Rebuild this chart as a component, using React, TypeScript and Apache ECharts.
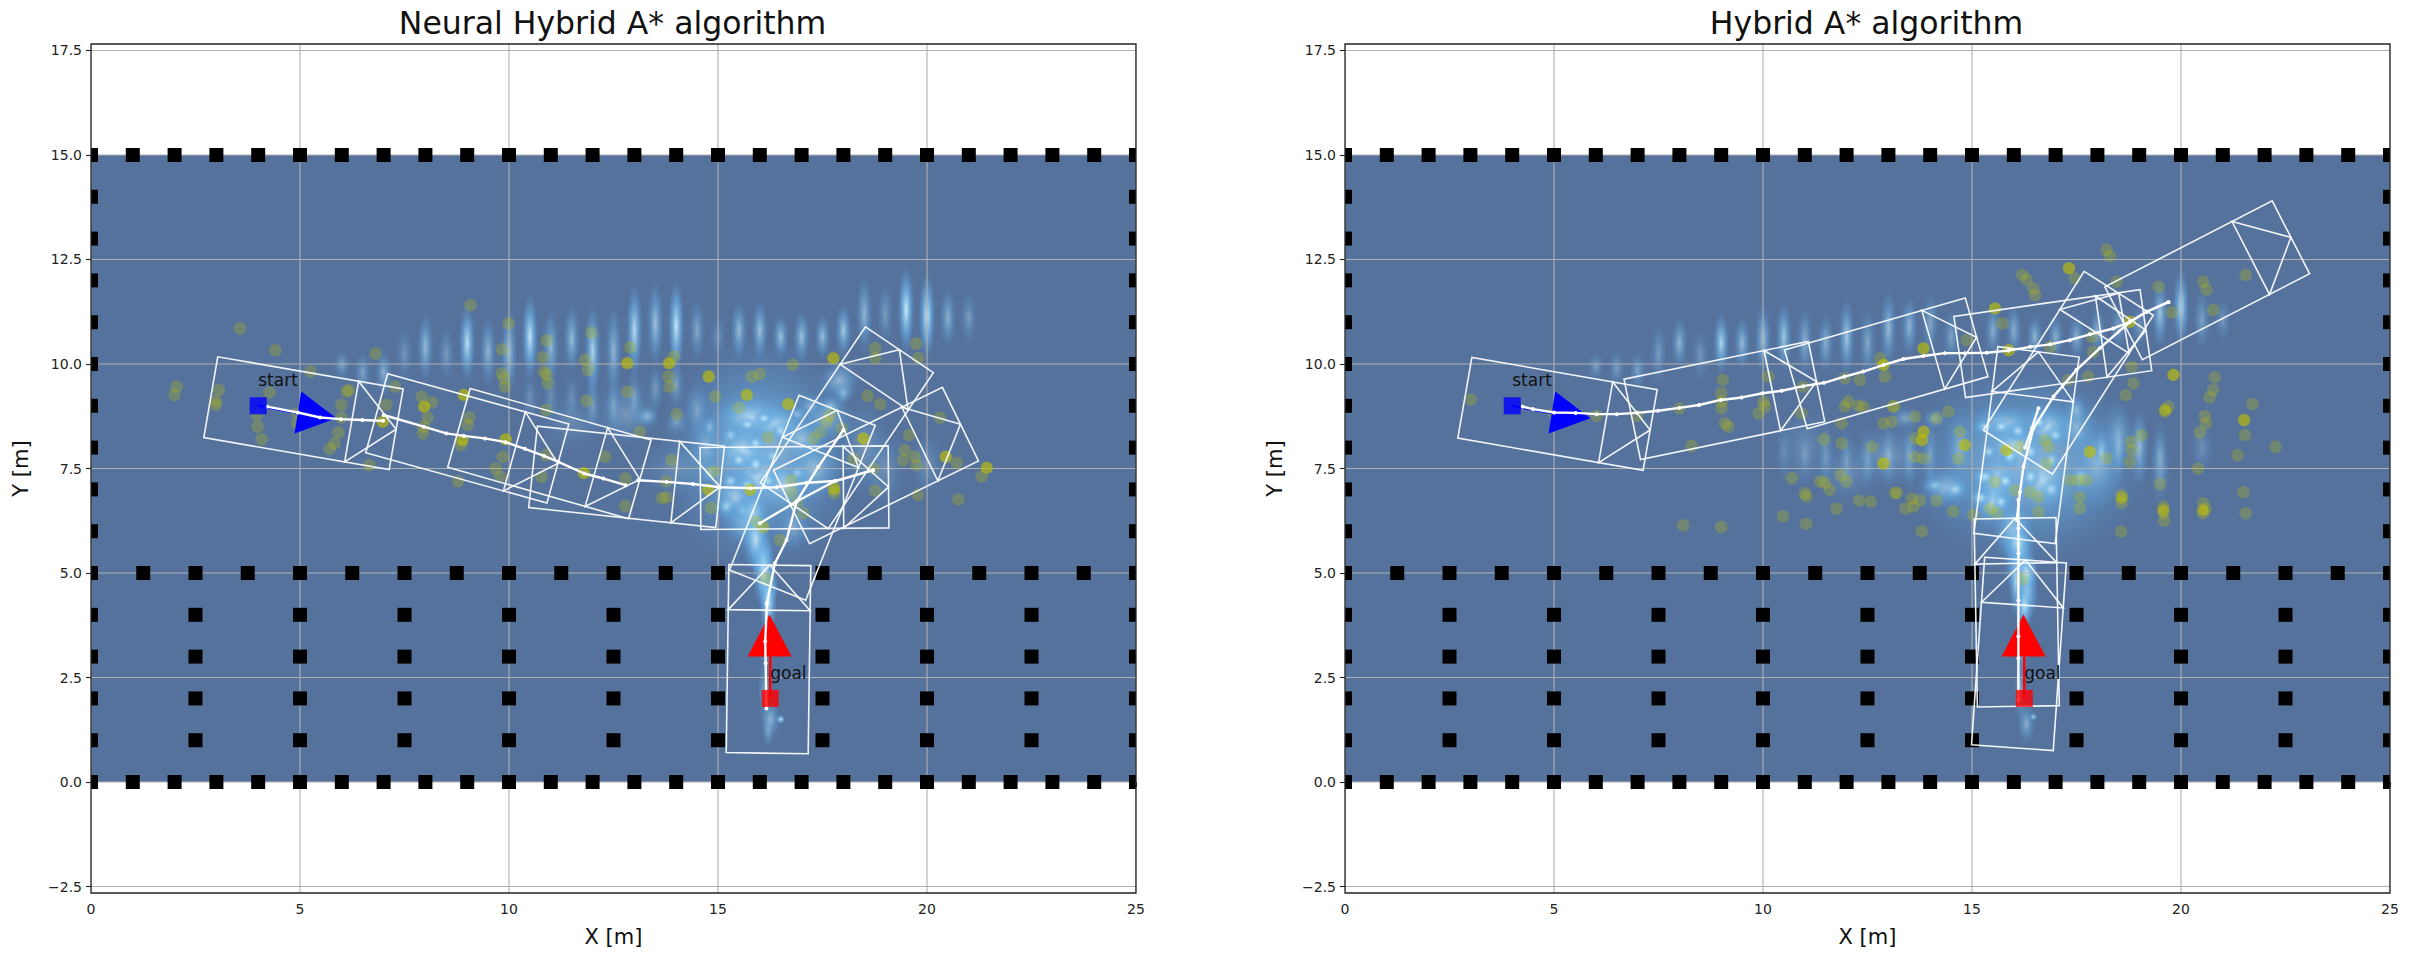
import React, { useEffect, useRef } from "react";
import * as echarts from "echarts";

const titles = ["Neural Hybrid A* algorithm", "Hybrid A* algorithm"];
const xTicks = [0, 5, 10, 15, 20, 25];
const yTicks = [-2.5, 0, 2.5, 5, 7.5, 10, 12.5, 15, 17.5];
const xRange = [0, 25];
const yRange = [-2.655, 17.655];
const field = [[0, 0, 25, 15]];

const wallXs = [0, 1, 2, 3, 4, 5, 6, 7, 8, 9, 10, 11, 12, 13, 14, 15, 16, 17, 18, 19, 20, 21, 22, 23, 24, 25];
const wallYs = [0, 1, 2, 3, 4, 5, 6, 7, 8, 9, 10, 11, 12, 13, 14, 15];
const laneXs = [1.25, 2.5, 3.75, 5, 6.25, 7.5, 8.75, 10, 11.25, 12.5, 13.75, 15, 17.5, 18.75, 20, 21.25, 22.5, 23.75];
const slotXs = [2.5, 5, 7.5, 10, 12.5, 15, 17.5, 20, 22.5];
const slotYs = [1, 2, 3, 4];

const startPoint = [[4, 9]];
const goalPoint = [[16.25, 2]];
const startStem = [[4, 9], [5.5, 8.73]];
const goalStem = [[16.25, 2], [16.25, 3]];
const startHead = [[5.03, 9.34, 4.87, 8.34, 5.87, 8.7]];
const goalHead = [[16.23, 4.01, 15.71, 3.0, 16.76, 3.0]];
const startLabel = [[4.0, 9.5, "start"]];
const goalLabel = [[16.25, 2.5, "goal"]];

// vehicle poses: front-centre x, front-centre y, heading in degrees
const leftVehicles = [
  [7.3, 8.44, -9.8], [11.17, 7.62, -15.5], [13.13, 7.24, -15.9], [15.05, 7.06, -6.1], [19.08, 7.06, 0.5],
  [20.8, 8.56, 26.1], [19.34, 10.34, 56], [17.85, 8.89, 68.3], [16.24, 5.19, 89.2],
];
const rightVehicles = [
  [7.3, 8.42, -9.9], [11.28, 9.58, 11.6], [15.11, 10.64, 16.1], [19.16, 10.81, 8.2], [22.63, 13.03, 27.2],
  [18.51, 11.69, 57.6], [16.59, 10.29, 82.7], [16.03, 6.31, 91], [16.28, 5.31, 86],
];

const leftPaths = [
  [[4.21, 8.98], [4.95, 8.84], [5.48, 8.72], [5.98, 8.68], [6.49, 8.66], [6.99, 8.64]],
  [[7.0, 8.78], [7.96, 8.5], [8.5, 8.34], [8.92, 8.28], [9.42, 8.22], [9.92, 8.13], [10.38, 7.97], [10.84, 7.8], [11.18, 7.66], [11.8, 7.38], [12.26, 7.26], [12.79, 7.1]],
  [[13.09, 7.22], [13.77, 7.18], [14.4, 7.13], [15.05, 7.05], [15.77, 7.03], [16.4, 7.05], [17.12, 7.16], [17.8, 7.2], [18.71, 7.46]],
  [[16.0, 6.19], [16.88, 6.71], [17.8, 7.2], [18.71, 7.46]],
  [[18.0, 8.42], [17.4, 7.54], [16.88, 6.71], [16.64, 5.79], [16.36, 5.23], [16.17, 4.27], [16.13, 3.36], [16.14, 2.84], [16.16, 1.76]],
];
const rightPaths = [
  [[4.25, 8.98], [4.5, 8.92], [5.0, 8.84], [5.52, 8.83], [6.02, 8.8], [6.5, 8.8], [6.99, 8.83], [7.49, 8.88], [8.0, 8.95], [8.47, 9.02], [8.99, 9.14], [9.49, 9.2], [9.99, 9.3], [10.45, 9.36], [10.96, 9.47], [11.46, 9.55], [11.95, 9.7], [12.4, 9.82], [12.89, 9.98], [13.36, 10.12], [13.84, 10.19], [14.35, 10.26], [14.83, 10.26], [15.35, 10.27], [15.87, 10.32], [16.39, 10.41], [16.87, 10.47], [17.34, 10.57], [17.82, 10.71], [18.38, 10.85], [18.78, 11.01], [19.18, 11.25], [19.7, 11.48]],
  [[19.7, 11.48], [19.18, 11.25], [18.78, 11.01], [18.06, 10.38], [17.5, 9.86], [16.95, 9.22], [16.47, 8.46], [16.23, 7.54], [16.15, 6.94], [16.07, 6.27]],
  [[16.59, 8.94], [16.43, 8.46], [16.27, 8.0]],
  [[16.11, 6.75], [16.11, 6.07], [16.11, 5.47], [16.11, 4.35], [16.11, 3.48], [16.11, 2.96], [16.11, 1.96]],
];

const leftDots = [
  [2.05, 9.46], [2.0, 9.26], [3.56, 10.85], [4.41, 10.33], [3.06, 9.38], [2.99, 9.12], [2.99, 9.02], [3.97, 8.78], [3.99, 8.5], [4.08, 8.2], [4.27, 9.32], [5.25, 9.82], [4.93, 8.82], [4.93, 8.58], [5.92, 8.36], [5.83, 8.1], [5.71, 7.97], [5.99, 9.02], [6.12, 9.34], [6.17, 9.38], [5.99, 8.72], [6.81, 10.25], [7.06, 9.02], [6.98, 8.62], [7.27, 9.46], [7.91, 9.22], [7.97, 8.98], [8.16, 9.08], [8.05, 8.72], [7.96, 8.5], [7.94, 8.34], [8.92, 9.26], [9.05, 8.72], [9.01, 8.54], [8.89, 8.18], [8.85, 8.06], [6.66, 7.58], [8.78, 7.19], [9.08, 11.41], [9.99, 10.97], [9.83, 10.35], [9.83, 9.78], [9.88, 9.66], [9.9, 9.46], [9.92, 8.2], [9.85, 7.78], [9.68, 7.5], [9.79, 7.3], [10.78, 7.3], [10.81, 10.16], [10.84, 9.82], [10.9, 9.74], [10.93, 9.54], [10.89, 8.9], [10.89, 7.82], [10.9, 10.56], [11.97, 10.75], [11.82, 10.1], [11.89, 9.86], [11.85, 9.12], [11.78, 7.39], [12.3, 7.78], [12.79, 7.26], [12.79, 6.6], [12.9, 10.4], [12.83, 10.02], [12.83, 9.34], [13.13, 8.38],
  [13.83, 10.02], [13.81, 9.7], [13.84, 9.46], [13.95, 10.18], [14.78, 9.7], [14.93, 9.22], [15.81, 9.7], [16.0, 9.76], [15.69, 9.26], [15.5, 8.96], [16.79, 9.98], [16.68, 9.04], [17.76, 10.14], [18.76, 10.38], [18.76, 10.14], [19.74, 10.49], [19.79, 10.14], [18.58, 9.24], [18.88, 9.04], [17.68, 8.78], [17.6, 8.62], [14.01, 8.8], [16.2, 8.25], [17.44, 8.37], [17.28, 8.22], [18.48, 8.22], [17.96, 8.46], [19.57, 8.3], [19.47, 7.94], [19.43, 7.7], [19.71, 7.78], [19.75, 7.58], [20.45, 7.78], [20.71, 7.64], [20.31, 8.72], [21.43, 7.52], [21.31, 7.31], [20.75, 6.76], [19.78, 6.87], [18.76, 6.97], [18.72, 7.5], [18.24, 7.74], [17.78, 7.07], [17.78, 6.91], [15.77, 6.99], [15.92, 6.23], [16.08, 6.09], [16.48, 5.79], [16.76, 7.22], [16.76, 6.95], [16.88, 6.67], [17.04, 6.43], [14.77, 6.99], [14.83, 6.56], [14.89, 7.43], [13.89, 7.7], [13.76, 7.19], [13.77, 6.81], [13.65, 6.79], [16.16, 4.85], [16.08, 6.11],
];
const leftStrongDots = [
  [16.68, 9.04], [14.78, 9.7], [15.69, 9.26], [13.83, 10.02], [15.77, 6.99], [14.77, 6.99], [21.43, 7.52], [20.45, 7.78], [17.78, 7.0], [11.8, 7.39], [8.89, 8.18], [6.98, 8.62], [9.92, 8.2], [7.97, 8.98], [8.92, 9.26], [12.83, 10.02], [17.76, 10.14], [18.48, 8.22],
];
const rightDots = [
  [3.01, 9.15], [5.0, 8.82], [6.02, 8.76], [6.99, 8.76], [8.0, 8.94], [8.29, 8.04], [9.04, 9.62], [9.0, 9.3], [9.01, 9.1], [9.01, 8.94], [9.09, 8.58], [9.17, 8.5], [10.01, 9.1], [10.05, 8.98], [9.89, 8.82], [10.13, 9.7], [10.96, 9.46], [10.92, 8.82], [11.96, 9.66], [11.88, 8.58], [12.04, 9.1], [11.96, 8.98], [12.28, 9.0], [12.4, 8.98], [12.32, 9.62], [12.88, 8.58], [12.8, 10.14], [12.92, 9.7], [12.88, 9.98], [11.46, 8.2], [11.88, 8.1], [12.6, 8.02], [12.88, 7.62], [10.69, 7.27], [11.36, 7.19], [11.48, 7.16], [11.6, 6.99], [11.86, 7.34], [12.0, 7.19], [11.0, 6.91], [11.04, 6.83], [13.12, 9.0], [13.16, 6.91],
  [18.22, 12.73], [18.3, 12.58], [17.32, 12.29], [17.46, 12.05], [18.46, 11.97], [16.2, 12.13], [16.31, 12.02], [16.47, 11.81], [16.51, 11.65], [15.55, 11.33], [15.73, 10.97], [15.88, 10.33], [16.87, 10.41], [13.84, 10.37], [14.87, 10.57], [17.86, 10.65], [17.9, 10.29], [18.78, 11.01], [19.46, 11.85], [19.78, 11.23], [20.53, 11.97], [20.61, 11.78], [20.77, 11.29], [21.55, 12.13], [18.82, 9.93], [18.86, 9.54], [17.78, 9.7], [17.3, 9.62], [19.82, 9.74], [20.81, 9.68], [20.77, 9.38], [20.69, 9.2], [21.71, 9.04], [18.68, 9.26], [19.62, 8.86], [19.7, 8.98], [20.57, 8.75], [20.6, 8.58], [20.45, 8.36], [21.51, 8.66], [21.53, 8.3], [19.06, 8.3], [22.26, 8.02], [21.35, 7.82], [20.41, 7.5], [18.78, 7.66], [18.82, 7.94], [18.8, 8.14], [18.22, 7.74], [17.82, 7.9], [16.79, 7.62], [16.83, 8.02], [16.75, 8.18], [15.83, 7.94], [16.15, 8.02], [14.83, 8.06], [14.67, 7.74], [14.71, 8.38], [14.43, 8.86], [14.15, 8.7], [13.64, 8.74], [13.08, 8.62], [13.12, 8.98], [13.84, 8.38], [13.8, 8.18], [13.64, 7.78], [13.84, 7.74], [13.64, 8.22], [19.5, 7.13], [18.58, 6.86], [18.58, 6.67], [19.58, 6.59], [19.58, 6.43], [20.53, 6.67], [20.53, 6.43], [21.49, 6.93], [21.55, 6.43], [17.58, 6.82], [17.34, 7.22], [17.54, 7.22], [17.74, 7.22], [17.58, 6.55], [16.59, 6.82], [16.59, 6.47], [16.39, 6.94], [16.03, 6.98], [15.55, 7.18], [15.59, 6.43], [14.55, 6.47], [15.03, 6.39], [13.2, 6.92], [13.56, 6.78], [13.76, 6.74], [13.6, 6.59], [12.58, 6.71],
  [8.09, 6.14], [9.0, 6.1], [10.48, 6.36], [11.03, 6.18], [11.76, 6.54], [12.3, 6.73], [18.57, 5.99], [19.6, 6.25], [20.59, 6.54], [15.44, 6.54], [13.4, 6.54], [13.8, 6.0], [14.15, 6.73], [16.2, 4.85],
];
const rightStrongDots = [
  [15.55, 11.33], [19.82, 9.74], [17.32, 12.29], [15.83, 7.94], [17.82, 7.9], [14.83, 8.06], [18.58, 6.8], [19.62, 8.9], [15.88, 10.33], [13.84, 10.37], [18.78, 11.01], [13.84, 8.38], [13.8, 8.18], [12.88, 9.98], [12.88, 7.62], [21.51, 8.66], [20.53, 6.5], [19.58, 6.5],
];

// stripe columns of the heat map: x, y centre, half height, brightness
const leftStripes = [
  [6, 9.98, 0.35, 0.4], [6.5, 9.8, 0.5, 0.4], [7, 9.8, 0.55, 0.5], [7.5, 10.25, 0.65, 0.3], [8, 10.4, 0.85, 0.6], [8.5, 10.25, 0.65, 0.35], [9, 10.5, 0.95, 0.9], [9.5, 10.3, 0.85, 0.55], [10, 10.3, 1.05, 0.65], [10.5, 10.65, 1.05, 0.95], [11, 10.4, 0.95, 0.55], [11.5, 10.6, 0.85, 0.6], [12, 10.3, 1.15, 0.8], [12.5, 10.3, 1.15, 0.55], [13, 10.8, 1.15, 0.85], [13.5, 10.97, 1.05, 0.65], [14, 10.9, 1.15, 0.95], [14.5, 10.8, 0.75, 0.45], [15, 10.65, 0.55, 0.25], [15.5, 10.8, 0.75, 0.6], [16, 10.8, 0.75, 0.65], [16.5, 10.65, 0.55, 0.65], [17, 10.65, 0.65, 0.65], [17.5, 10.65, 0.55, 0.6], [18, 10.8, 0.65, 0.7], [18.5, 11.2, 0.95, 0.55], [19, 11.2, 0.75, 0.35], [19.5, 11.3, 1.05, 1], [20, 11.15, 1.05, 1], [20.5, 11.1, 0.75, 0.5], [21, 11.1, 0.65, 0.35],
  [10.5, 9.2, 0.6, 0.25], [11, 9.2, 0.6, 0.25], [11.5, 9.2, 0.6, 0.25], [12, 9.0, 0.7, 0.35], [12.5, 9.0, 0.7, 0.35], [13, 9.2, 0.7, 0.35], [13.5, 9.4, 0.6, 0.35], [14, 9.5, 0.6, 0.4],
];
const rightStripes = [
  [6, 9.94, 0.35, 0.35], [6.5, 9.9, 0.45, 0.35], [7, 9.85, 0.45, 0.4], [7.5, 10.25, 0.75, 0.35], [8, 10.5, 0.65, 0.55], [8.5, 10.2, 0.65, 0.3], [9, 10.5, 0.75, 0.8], [9.5, 10.5, 0.65, 0.6], [10, 10.6, 0.85, 0.65], [10.5, 10.65, 0.85, 0.7], [11, 10.55, 0.85, 0.5], [11.5, 10.5, 0.75, 0.5], [12, 10.65, 0.95, 0.7], [12.5, 10.5, 0.85, 0.45], [13, 10.85, 0.95, 0.6], [13.5, 10.9, 0.75, 0.55], [14, 10.97, 0.75, 0.45], [14.5, 10.65, 0.65, 0.4], [15.5, 10.8, 0.65, 0.5], [16, 10.8, 0.65, 0.5], [16.5, 10.65, 0.55, 0.55], [17, 10.65, 0.55, 0.5], [17.5, 10.65, 0.55, 0.5], [18, 10.8, 0.55, 0.5], [18.5, 10.9, 0.55, 0.4], [19, 10.9, 0.55, 0.3], [19.5, 11.2, 0.85, 0.65], [20, 11.37, 0.95, 0.85], [20.5, 11.05, 0.75, 0.4], [21, 11.05, 0.55, 0.3],
  [10.5, 7.9, 0.7, 0.2], [11, 7.8, 0.7, 0.25], [11.5, 7.8, 0.8, 0.3], [12, 7.7, 0.8, 0.3], [12.5, 7.7, 0.8, 0.3], [13, 7.8, 0.8, 0.35], [13.5, 7.8, 0.9, 0.35], [14, 7.8, 0.9, 0.35], [18.5, 8.0, 0.9, 0.4], [19, 8.0, 0.9, 0.35], [19.5, 7.8, 0.9, 0.35],
];
// soft clouds of the heat map: x, y, radius x, radius y, brightness
const leftCloud = [
  [16, 7.8, 2.4, 2.8, 0.65], [15.8, 8.7, 1.0, 0.6, 0.8], [16.4, 8.55, 0.7, 0.5, 0.7], [15.6, 7.9, 0.8, 0.7, 0.75], [16.0, 7.3, 0.8, 0.8, 0.7], [15.4, 6.8, 0.6, 0.7, 0.6], [15.7, 6.2, 0.6, 0.6, 0.6], [16.6, 7.1, 0.7, 0.7, 0.6], [17.3, 7.5, 0.7, 0.8, 0.5], [17.9, 9.6, 0.5, 0.5, 0.55], [17.6, 8.7, 0.7, 0.6, 0.45], [17.0, 8.2, 0.6, 0.6, 0.5], [18.5, 8.0, 0.6, 1.2, 0.3], [19.0, 7.5, 0.5, 1.0, 0.25], [20, 7.6, 0.4, 0.8, 0.25], [13.3, 8.75, 0.3, 0.25, 0.6], [14.0, 8.6, 0.3, 0.3, 0.35], [14.5, 8.9, 0.3, 0.7, 0.35], [14.7, 8.0, 0.4, 0.8, 0.4], [12.8, 8.8, 0.8, 0.8, 0.3], [11.5, 8.6, 0.8, 0.7, 0.2], [14, 7.5, 1, 0.7, 0.2], [16.8, 6.1, 0.4, 0.6, 0.4],
  [15.3, 8.3, 0.25, 0.25, 0.6], [15.7, 8.55, 0.25, 0.2, 0.8], [16.1, 8.7, 0.25, 0.2, 0.85], [16.5, 8.4, 0.25, 0.25, 0.7], [15.9, 8.1, 0.25, 0.25, 0.8], [15.5, 7.7, 0.25, 0.25, 0.8], [15.9, 7.6, 0.25, 0.3, 0.85], [16.3, 7.8, 0.25, 0.25, 0.6], [15.3, 7.2, 0.25, 0.25, 0.7], [15.7, 7.1, 0.25, 0.25, 0.7], [16.2, 7.2, 0.25, 0.25, 0.65], [16.9, 7.4, 0.25, 0.25, 0.55], [15.2, 6.6, 0.25, 0.3, 0.65], [15.6, 6.5, 0.25, 0.3, 0.6], [17.7, 9.0, 0.3, 0.25, 0.5], [17.2, 9.0, 0.3, 0.3, 0.4], [18, 9.3, 0.25, 0.3, 0.5], [16.9, 8.8, 0.25, 0.2, 0.5], [14.8, 8.5, 0.2, 0.3, 0.45], [14.8, 7.4, 0.25, 0.3, 0.45],
  [15.85, 6.4, 0.4, 0.7, 0.8], [16.05, 5.4, 0.3, 0.6, 0.95], [16.2, 4.7, 0.25, 0.5, 1], [15.9, 5.8, 0.35, 0.8, 0.85], [16.1, 5.0, 0.28, 0.9, 0.95], [16.2, 4.3, 0.22, 0.8, 1], [16.15, 3.3, 0.18, 0.8, 0.4], [16.1, 2.2, 0.15, 0.7, 0.35], [16.25, 1.5, 0.25, 0.5, 0.55], [16.5, 1.5, 0.12, 0.12, 0.9], [16.2, 1.2, 0.15, 0.4, 0.35],
];
const rightCloud = [
  [16.3, 7.6, 3.0, 2.4, 0.65], [15.75, 8.55, 0.9, 0.5, 0.7], [16.8, 8.5, 0.7, 0.6, 0.75], [16.0, 8.0, 0.8, 0.6, 0.75], [15.6, 7.2, 0.7, 0.7, 0.8], [16.7, 7.2, 0.7, 0.8, 0.7], [15.5, 6.7, 0.6, 0.6, 0.75], [14.4, 7.05, 0.7, 0.5, 0.6], [13.4, 8.7, 0.4, 0.3, 0.4], [14.1, 8.7, 0.3, 0.25, 0.4], [18.0, 7.6, 0.7, 1.1, 0.45], [18.5, 8.3, 0.4, 0.9, 0.35], [19, 8, 0.25, 1, 0.35], [19.5, 7.5, 0.25, 0.9, 0.3], [17.5, 8.5, 0.5, 0.7, 0.45], [13, 7.8, 1, 0.8, 0.3], [12, 7.4, 0.8, 0.8, 0.2], [11, 8, 0.8, 1, 0.18], [14.7, 8.0, 0.35, 0.9, 0.4], [20.5, 8, 0.3, 0.6, 0.25],
  [15.3, 8.5, 0.3, 0.2, 0.7], [15.7, 8.5, 0.25, 0.2, 0.85], [16.1, 8.4, 0.25, 0.25, 0.85], [16.6, 8.6, 0.25, 0.2, 0.9], [17.0, 8.3, 0.25, 0.25, 0.75], [15.4, 7.9, 0.25, 0.25, 0.7], [15.9, 7.8, 0.25, 0.3, 0.85], [16.4, 7.9, 0.25, 0.3, 0.75], [16.9, 7.7, 0.25, 0.3, 0.7], [15.3, 7.3, 0.3, 0.25, 0.85], [15.8, 7.2, 0.25, 0.25, 0.9], [16.4, 7.3, 0.25, 0.3, 0.8], [16.9, 7.0, 0.3, 0.3, 0.7], [15.2, 6.8, 0.3, 0.25, 0.85], [15.7, 6.7, 0.25, 0.25, 0.75], [14.6, 7.0, 0.3, 0.25, 0.7], [14.1, 7.1, 0.3, 0.2, 0.55], [17.6, 7.3, 0.3, 0.4, 0.5], [18.1, 7.9, 0.2, 0.6, 0.5], [17.5, 8.9, 0.25, 0.4, 0.45],
  [16.0, 6, 0.5, 0.8, 0.8], [16.15, 5.2, 0.4, 0.9, 0.85], [16.3, 4.6, 0.3, 0.8, 0.9], [16.1, 5.7, 0.35, 0.6, 0.9], [16.3, 5, 0.3, 0.5, 0.9], [16.25, 4.2, 0.22, 0.6, 0.9], [16.05, 4.8, 0.18, 0.9, 0.7], [16.2, 3.4, 0.18, 1, 0.5], [16.15, 2.2, 0.15, 0.8, 0.45], [16.3, 1.4, 0.22, 0.5, 0.5], [16.47, 1.56, 0.1, 0.1, 0.8],
];

const FONT = '"DejaVu Sans"';
const FIELD_COLOR = "#55729c";
const VEHICLE_LENGTH = 4.5;
const VEHICLE_HALF_WIDTH = 0.98;
const CAB_LENGTH = 1.08;
const STRIPE_RX = 0.2;

const obstacles = [
  ...wallXs.flatMap((x) => [[x, 0], [x, 15]]),
  ...wallYs.flatMap((y) => [[0, y], [25, y]]),
  ...laneXs.map((x) => [x, 5]),
  ...slotXs.flatMap((x) => slotYs.map((y) => [x, y])),
];

function blobFill(a: number) {
  return new echarts.graphic.RadialGradient(0.5, 0.5, 0.5, [
    { offset: 0, color: `rgba(205,238,252,${a})` },
    { offset: 0.5, color: `rgba(110,180,230,${(a * 0.72).toFixed(3)})` },
    { offset: 1, color: "rgba(90,150,215,0)" },
  ]);
}

function blobItem(_: any, api: any) {
  const x = api.value(0), y = api.value(1), rx = api.value(2), ry = api.value(3), a = api.value(4);
  const p0 = api.coord([x - rx, y + ry]);
  const p1 = api.coord([x + rx, y - ry]);
  return { type: "rect", shape: { x: p0[0], y: p0[1], width: p1[0] - p0[0], height: p1[1] - p0[1] }, style: { fill: blobFill(a) } };
}

function vehicleItem(_: any, api: any) {
  const tx = api.value(0), ty = api.value(1), h = (api.value(2) * Math.PI) / 180;
  const fx = Math.cos(h), fy = Math.sin(h), lx = -fy, ly = fx;
  const at = (back: number, side: number) => api.coord([tx - fx * back + lx * side, ty - fy * back + ly * side]);
  const w = VEHICLE_HALF_WIDTH;
  const style = { stroke: "rgba(255,255,255,0.92)", fill: "none", lineWidth: 1.6 };
  return {
    type: "group",
    children: [
      { type: "polygon", shape: { points: [at(0, w), at(0, -w), at(VEHICLE_LENGTH, -w), at(VEHICLE_LENGTH, w)] }, style },
      { type: "polygon", shape: { points: [at(CAB_LENGTH, w), at(0, 0), at(CAB_LENGTH, -w)] }, style },
    ],
  };
}

function custom(gi: number, z: number, data: any[], renderItem: any, clip = true) {
  return { type: "custom", xAxisIndex: gi, yAxisIndex: gi, z, silent: true, clip, data, renderItem };
}

function triangleItem(color: string) {
  return (_: any, api: any) => {
    const pts = [0, 2, 4].map((i) => api.coord([api.value(i), api.value(i + 1)]));
    return { type: "polygon", shape: { points: pts }, style: { fill: color } };
  };
}

function panelSeries(gi: number, stripes: number[][], cloud: number[][], dots: number[][], strong: number[][], vehicles: number[][], paths: number[][][]) {
  const stripeBlobs = stripes.map(([x, y, h, a]) => [x, y, STRIPE_RX, h, a]);
  const s: any[] = [
    custom(gi, 1, field, (_: any, api: any) => {
      const p0 = api.coord([api.value(0), api.value(3)]);
      const p1 = api.coord([api.value(2), api.value(1)]);
      return { type: "rect", shape: { x: p0[0], y: p0[1], width: p1[0] - p0[0], height: p1[1] - p0[1] }, style: { fill: FIELD_COLOR } };
    }),
    custom(gi, 1.1, cloud, blobItem),
    custom(gi, 1.2, stripeBlobs, blobItem),
    custom(gi, 1.5, xTicks.map((v) => [v]), (_: any, api: any) => {
      const a = api.coord([api.value(0), yRange[0]]), b = api.coord([api.value(0), yRange[1]]);
      return { type: "line", shape: { x1: a[0], y1: a[1], x2: b[0], y2: b[1] }, style: { stroke: "#b0b0b0", lineWidth: 1.1 } };
    }),
    custom(gi, 1.5, yTicks.map((v) => [0, v]), (_: any, api: any) => {
      const a = api.coord([xRange[0], api.value(1)]), b = api.coord([xRange[1], api.value(1)]);
      return { type: "line", shape: { x1: a[0], y1: a[1], x2: b[0], y2: b[1] }, style: { stroke: "#b0b0b0", lineWidth: 1.1 } };
    }),
    { type: "scatter", xAxisIndex: gi, yAxisIndex: gi, z: 2, silent: true, symbol: "circle", symbolSize: 12.5, itemStyle: { color: "#bfbf00", opacity: 0.27 }, data: dots },
    { type: "scatter", xAxisIndex: gi, yAxisIndex: gi, z: 2.1, silent: true, symbol: "circle", symbolSize: 12, itemStyle: { color: "#bfbf00", opacity: 0.5 }, data: strong },
    custom(gi, 3, obstacles, (_: any, api: any) => {
      const p = api.coord([api.value(0), api.value(1)]);
      return { type: "rect", shape: { x: p[0] - 7, y: p[1] - 7, width: 14, height: 14 }, style: { fill: "#000" } };
    }),
    { type: "line", xAxisIndex: gi, yAxisIndex: gi, z: 4, silent: true, symbol: "none", lineStyle: { color: "#0000ff", width: 2.5 }, data: startStem },
    { type: "line", xAxisIndex: gi, yAxisIndex: gi, z: 4, silent: true, symbol: "none", lineStyle: { color: "#ff0000", width: 2.5 }, data: goalStem },
    custom(gi, 4, startHead, triangleItem("#0000ff")),
    custom(gi, 4, goalHead, triangleItem("#ff0000")),
    custom(gi, 5, vehicles, vehicleItem),
    ...paths.map((p) => ({ type: "line", xAxisIndex: gi, yAxisIndex: gi, z: 6, silent: true, symbol: "circle", symbolSize: 4, showSymbol: true, showAllSymbol: true, itemStyle: { color: "#fff" }, lineStyle: { color: "#fff", width: 2.4 }, data: p })),
    { type: "scatter", xAxisIndex: gi, yAxisIndex: gi, z: 6.5, silent: true, symbol: "rect", symbolSize: 17, itemStyle: { color: "#0000ff" }, data: startPoint },
    { type: "scatter", xAxisIndex: gi, yAxisIndex: gi, z: 6.5, silent: true, symbol: "rect", symbolSize: 17, itemStyle: { color: "#ff0000" }, data: goalPoint },
    custom(gi, 7, [...startLabel, ...goalLabel], (_: any, api: any) => {
      const p = api.coord([api.value(0), api.value(1)]);
      return { type: "text", x: p[0], y: p[1] + 4, style: { text: String(api.value(2)), fill: "#111", font: `17px ${FONT}`, textAlign: "left", textVerticalAlign: "bottom" } };
    }),
    custom(gi, 8, [[xRange[0], yRange[0], xRange[1], yRange[1]]], (_: any, api: any) => {
      const p0 = api.coord([api.value(0), api.value(3)]);
      const p1 = api.coord([api.value(2), api.value(1)]);
      return { type: "rect", shape: { x: p0[0], y: p0[1], width: p1[0] - p0[0], height: p1[1] - p0[1] }, style: { fill: "none", stroke: "#222", lineWidth: 1.3 } };
    }, false),
  ];
  return s;
}

const GRID_LEFTS = [91, 1345];
const GRID_WIDTH = 1045;

export default function App() {
  const ref = useRef<HTMLDivElement>(null);
  useEffect(() => {
    const chart = echarts.init(ref.current!, null, { renderer: "svg" });
    const grid = GRID_LEFTS.map((left) => ({ left, width: GRID_WIDTH, top: 44, height: 849 }));
    const xAxis = GRID_LEFTS.map((_, i) => ({
      type: "value", gridIndex: i, min: xRange[0], max: xRange[1], interval: 5,
      name: "X [m]", nameLocation: "middle", nameGap: 33,
      nameTextStyle: { fontFamily: FONT, fontSize: 21, color: "#111" },
      axisLine: { show: false }, splitLine: { show: false },
      axisTick: { show: true, length: 5, lineStyle: { color: "#222", width: 1.1 } },
      axisLabel: { fontFamily: FONT, fontSize: 14, color: "#222", margin: 9 },
    }));
    const yAxis = GRID_LEFTS.map((_, i) => ({
      type: "value", gridIndex: i, min: yRange[0], max: yRange[1],
      name: "Y [m]", nameLocation: "middle", nameGap: 60,
      nameTextStyle: { fontFamily: FONT, fontSize: 21, color: "#111" },
      axisLine: { show: false }, splitLine: { show: false },
      axisTick: { show: true, length: 5, customValues: yTicks, lineStyle: { color: "#222", width: 1.1 } },
      axisLabel: {
        fontFamily: FONT, fontSize: 14, color: "#222", margin: 9, customValues: yTicks,
        formatter: (v: number) => v.toFixed(1).replace("-", "\u2212"),
      },
    }));
    chart.setOption({
      animation: false,
      backgroundColor: "#fff",
      title: titles.map((text, i) => ({
        text, left: GRID_LEFTS[i] + GRID_WIDTH / 2 - 6, top: 2, textAlign: "center",
        textStyle: { fontFamily: FONT, fontSize: 31.5, fontWeight: "normal", color: "#111" },
      })),
      grid, xAxis, yAxis,
      series: [
        ...panelSeries(0, leftStripes, leftCloud, leftDots, leftStrongDots, leftVehicles, leftPaths),
        ...panelSeries(1, rightStripes, rightCloud, rightDots, rightStrongDots, rightVehicles, rightPaths),
      ],
    });
    return () => chart.dispose();
  }, []);
  return <div ref={ref} style={{ position: "fixed", left: 0, top: 0, width: 2411, height: 960, background: "#fff" }} />;
}
